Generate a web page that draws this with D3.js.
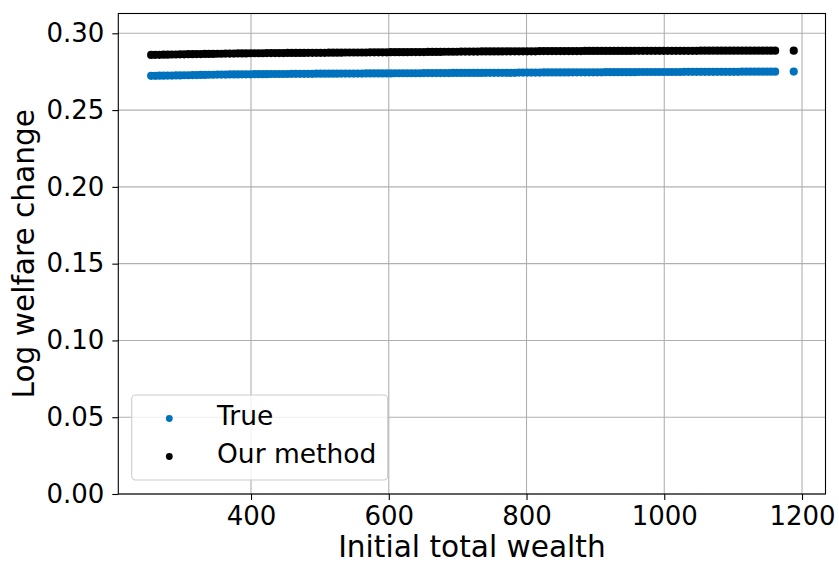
<!DOCTYPE html>
<html><head><meta charset="utf-8">
<script src="https://cdn.jsdelivr.net/npm/d3@7"></script>
<style>body{margin:0;background:#fff} text{font-family:"DejaVu Sans",sans-serif}</style>
</head><body><svg id="c" width="839" height="564"></svg>
<script>
const wealth = [
255,261,267,273,279,285,291,297,303,309,
315,321,327,333,339,345,351,357,363,369,
375,381,387,393,399,405,411,417,423,429,
435,441,447,453,459,465,471,477,483,489,
495,501,507,513,519,525,531,537,543,549,
555,561,567,573,579,585,591,597,603,609,
615,621,627,633,639,645,651,657,663,669,
675,681,687,693,699,705,711,717,723,729,
735,741,747,753,759,765,771,777,783,789,
795,801,807,813,819,825,831,837,843,849,
855,861,867,873,879,885,891,897,903,909,
915,921,927,933,939,945,951,957,963,969,
975,981,987,993,999,1005,1011,1017,1023,1029,
1035,1041,1047,1053,1059,1065,1071,1077,1083,1089,
1095,1101,1107,1113,1119,1125,1131,1137,1143,1149,
1155,1161,1188];
const trueValues = [
0.2723,0.2723,0.2724,0.2724,0.2725,0.2725,0.2726,0.2726,0.2727,0.2727,
0.2728,0.2728,0.2729,0.2729,0.2730,0.2730,0.2731,0.2731,0.2731,0.2732,
0.2732,0.2732,0.2733,0.2733,0.2733,0.2734,0.2734,0.2734,0.2734,0.2735,
0.2735,0.2735,0.2735,0.2735,0.2736,0.2736,0.2736,0.2736,0.2736,0.2736,
0.2737,0.2737,0.2737,0.2737,0.2737,0.2737,0.2738,0.2738,0.2738,0.2738,
0.2738,0.2738,0.2739,0.2739,0.2739,0.2739,0.2739,0.2739,0.2739,0.2740,
0.2740,0.2740,0.2740,0.2740,0.2740,0.2740,0.2741,0.2741,0.2741,0.2741,
0.2741,0.2741,0.2741,0.2742,0.2742,0.2742,0.2742,0.2742,0.2742,0.2742,
0.2742,0.2743,0.2743,0.2743,0.2743,0.2743,0.2743,0.2743,0.2743,0.2744,
0.2744,0.2744,0.2744,0.2744,0.2744,0.2745,0.2745,0.2745,0.2745,0.2745,
0.2745,0.2745,0.2746,0.2746,0.2746,0.2746,0.2746,0.2746,0.2746,0.2746,
0.2747,0.2747,0.2747,0.2747,0.2747,0.2747,0.2747,0.2747,0.2748,0.2748,
0.2748,0.2748,0.2748,0.2748,0.2748,0.2748,0.2748,0.2748,0.2748,0.2749,
0.2749,0.2749,0.2749,0.2749,0.2749,0.2749,0.2749,0.2749,0.2749,0.2749,
0.2749,0.2749,0.2749,0.2750,0.2750,0.2750,0.2750,0.2750,0.2750,0.2750,
0.2750,0.2750,0.2751];
const ourMethodValues = [
0.2859,0.2860,0.2860,0.2861,0.2861,0.2862,0.2862,0.2863,0.2863,0.2864,
0.2864,0.2865,0.2865,0.2866,0.2866,0.2866,0.2867,0.2867,0.2868,0.2868,
0.2868,0.2869,0.2869,0.2869,0.2870,0.2870,0.2870,0.2870,0.2871,0.2871,
0.2871,0.2871,0.2871,0.2872,0.2872,0.2872,0.2872,0.2872,0.2873,0.2873,
0.2873,0.2873,0.2873,0.2874,0.2874,0.2874,0.2874,0.2875,0.2875,0.2875,
0.2875,0.2875,0.2875,0.2876,0.2876,0.2876,0.2876,0.2876,0.2877,0.2877,
0.2877,0.2877,0.2877,0.2878,0.2878,0.2878,0.2878,0.2879,0.2879,0.2879,
0.2879,0.2880,0.2880,0.2880,0.2880,0.2881,0.2881,0.2881,0.2881,0.2881,
0.2882,0.2882,0.2882,0.2882,0.2882,0.2882,0.2883,0.2883,0.2883,0.2883,
0.2883,0.2883,0.2883,0.2883,0.2884,0.2884,0.2884,0.2884,0.2884,0.2884,
0.2884,0.2884,0.2884,0.2884,0.2884,0.2885,0.2885,0.2885,0.2885,0.2885,
0.2885,0.2885,0.2885,0.2885,0.2885,0.2885,0.2885,0.2886,0.2886,0.2886,
0.2886,0.2886,0.2886,0.2886,0.2886,0.2886,0.2886,0.2886,0.2886,0.2886,
0.2886,0.2886,0.2886,0.2887,0.2887,0.2887,0.2887,0.2887,0.2887,0.2887,
0.2887,0.2887,0.2887,0.2887,0.2887,0.2887,0.2887,0.2887,0.2887,0.2887,
0.2887,0.2887,0.2887];
const xTicks = [400, 600, 800, 1000, 1200];
const yTicks = [0.00, 0.05, 0.10, 0.15, 0.20, 0.25, 0.30];
const seriesNames = ["True", "Our method"];
const seriesColors = ["#0072bd", "#000000"];
const xLabel = "Initial total wealth";
const yLabel = "Log welfare change";

const svg = d3.select("#c");
const L = 118.3, R = 825.5, T = 13.5, B = 494;
const x = d3.scaleLinear().domain([207.3, 1234.1]).range([L, R]);
const y = d3.scaleLinear().domain([0, 0.3129]).range([B, T]);

// grid
const grid = svg.append("g");
grid.selectAll("line.gx").data(xTicks).join("line")
  .attr("x1", d => x(d)).attr("x2", d => x(d)).attr("y1", T).attr("y2", B)
  .attr("stroke", "#b0b0b0").attr("stroke-width", 1.1);
grid.selectAll("line.gy").data(yTicks).join("line")
  .attr("x1", L).attr("x2", R).attr("y1", d => y(d)).attr("y2", d => y(d))
  .attr("stroke", "#b0b0b0").attr("stroke-width", 1.1);

// series
const series = [trueValues, ourMethodValues];
series.forEach((vals, i) => {
  svg.append("g").selectAll("circle").data(wealth).join("circle")
    .attr("cx", d => x(d)).attr("cy", (d, j) => y(vals[j]))
    .attr("r", 4.1).attr("fill", seriesColors[i]);
});

// axes
const fs = 26;
const xAxis = svg.append("g").attr("transform", `translate(0,${B})`)
  .call(d3.axisBottom(x).tickValues(xTicks).tickFormat(d3.format("d")).tickSize(6).tickPadding(7));
const yAxis = svg.append("g").attr("transform", `translate(${L},0)`)
  .call(d3.axisLeft(y).tickValues(yTicks).tickFormat(d3.format(".2f")).tickSize(6).tickPadding(8));
[xAxis, yAxis].forEach(a => {
  a.select(".domain").remove();
  a.selectAll("line").attr("stroke", "#000").attr("stroke-width", 1.1);
  a.selectAll("text").attr("font-size", fs).attr("fill", "#000").attr("font-family", "DejaVu Sans");
});

// frame
svg.append("rect").attr("x", L).attr("y", T).attr("width", R - L).attr("height", B - T)
  .attr("fill", "none").attr("stroke", "#000").attr("stroke-width", 1.1);

// labels
svg.append("text").attr("x", (L + R) / 2).attr("y", 557).attr("text-anchor", "middle")
  .attr("font-size", 29.6).text(xLabel);
svg.append("text").attr("transform", `translate(34,${(T + B) / 2}) rotate(-90)`)
  .attr("text-anchor", "middle").attr("font-size", 29.6).text(yLabel);

// legend
const lg = svg.append("g");
lg.append("rect").attr("x", 131.7).attr("y", 395).attr("width", 256).attr("height", 85)
  .attr("rx", 4).attr("fill", "#fff").attr("fill-opacity", 0.8).attr("stroke", "#cccccc").attr("stroke-width", 1.1);
const legendRows = [425, 463];
seriesNames.forEach((name, i) => {
  lg.append("circle").attr("cx", 169.3).attr("cy", legendRows[i] - 6.5).attr("r", 3.4).attr("fill", seriesColors[i]);
  lg.append("text").attr("x", 217).attr("y", legendRows[i]).attr("font-size", 26.5).attr("fill", "#000").text(name);
});
</script></body></html>
